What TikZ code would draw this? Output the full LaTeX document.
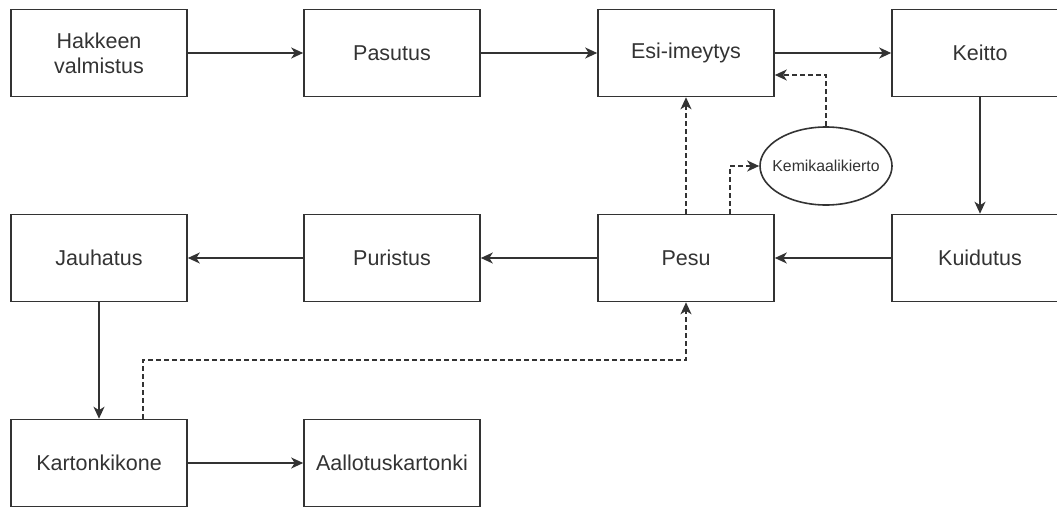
\documentclass[tikz,border=0pt]{standalone}
\usepackage{fontspec}
\setmainfont{Liberation Sans}
\usetikzlibrary{arrows.meta,shapes.geometric}
\definecolor{ink}{HTML}{333333}
\tikzset{
  x=1pt, y=-1pt,
  stepbox/.style={draw=ink, line width=1.6pt, minimum width=176pt, minimum height=87pt,
    inner sep=2pt, align=center, text=ink, font=\fontsize{21.5}{25}\selectfont},
  loopnode/.style={ellipse, draw=ink, line width=1.6pt, minimum width=132pt, minimum height=78pt,
    inner xsep=-8pt, inner ysep=0pt, text=ink, font=\fontsize{15.8}{18}\selectfont},
  flow/.style={draw=ink, line width=1.6pt, -{Stealth[length=12pt,width=11pt,inset=3.5pt]}},
  aux/.style={flow, dash pattern=on 5pt off 3pt}
}
\begin{document}
\begin{tikzpicture}
\useasboundingbox (0,0) rectangle (1057,506);
\clip (0,0) rectangle (1057,506);
% top row
\node[stepbox] (hake) at (99,53) {Hakkeen\\valmistus};
\node[stepbox] (pasu) at (392,53) {Pasutus};
\node[stepbox] (esi)  at (686,53) {Esi-imeytys};
\node[stepbox] (keit) at (980,53) {Keitto};
% middle row
\node[stepbox] (jauh) at (99,258) {Jauhatus};
\node[stepbox] (puri) at (392,258) {Puristus};
\node[stepbox] (pesu) at (686,258) {Pesu};
\node[stepbox] (kuid) at (980,258) {Kuidutus};
% bottom row
\node[stepbox] (kart) at (99,463) {Kartonkikone};
\node[stepbox] (aall) at (392,463) {Aallotuskartonki};
% chemical recovery loop
\node[loopnode] (kemi) at (826,166) {Kemikaalikierto};

% main process flow
\draw[flow] (hake) -- (pasu);
\draw[flow] (pasu) -- (esi);
\draw[flow] (esi) -- (keit);
\draw[flow] (keit) -- (kuid);
\draw[flow] (kuid) -- (pesu);
\draw[flow] (pesu) -- (puri);
\draw[flow] (puri) -- (jauh);
\draw[flow] (jauh) -- (kart);
\draw[flow] (kart) -- (aall);

% return streams
\draw[aux] ([xshift=44pt]kart.north) -- ++(0,-59) -| (pesu.south);
\draw[aux] (pesu.north) -- (esi.south);
\draw[aux] ([xshift=44pt]pesu.north) |- (kemi.west);
\draw[aux] (kemi.north) |- ([yshift=-22pt]esi.east);
\end{tikzpicture}
\end{document}
